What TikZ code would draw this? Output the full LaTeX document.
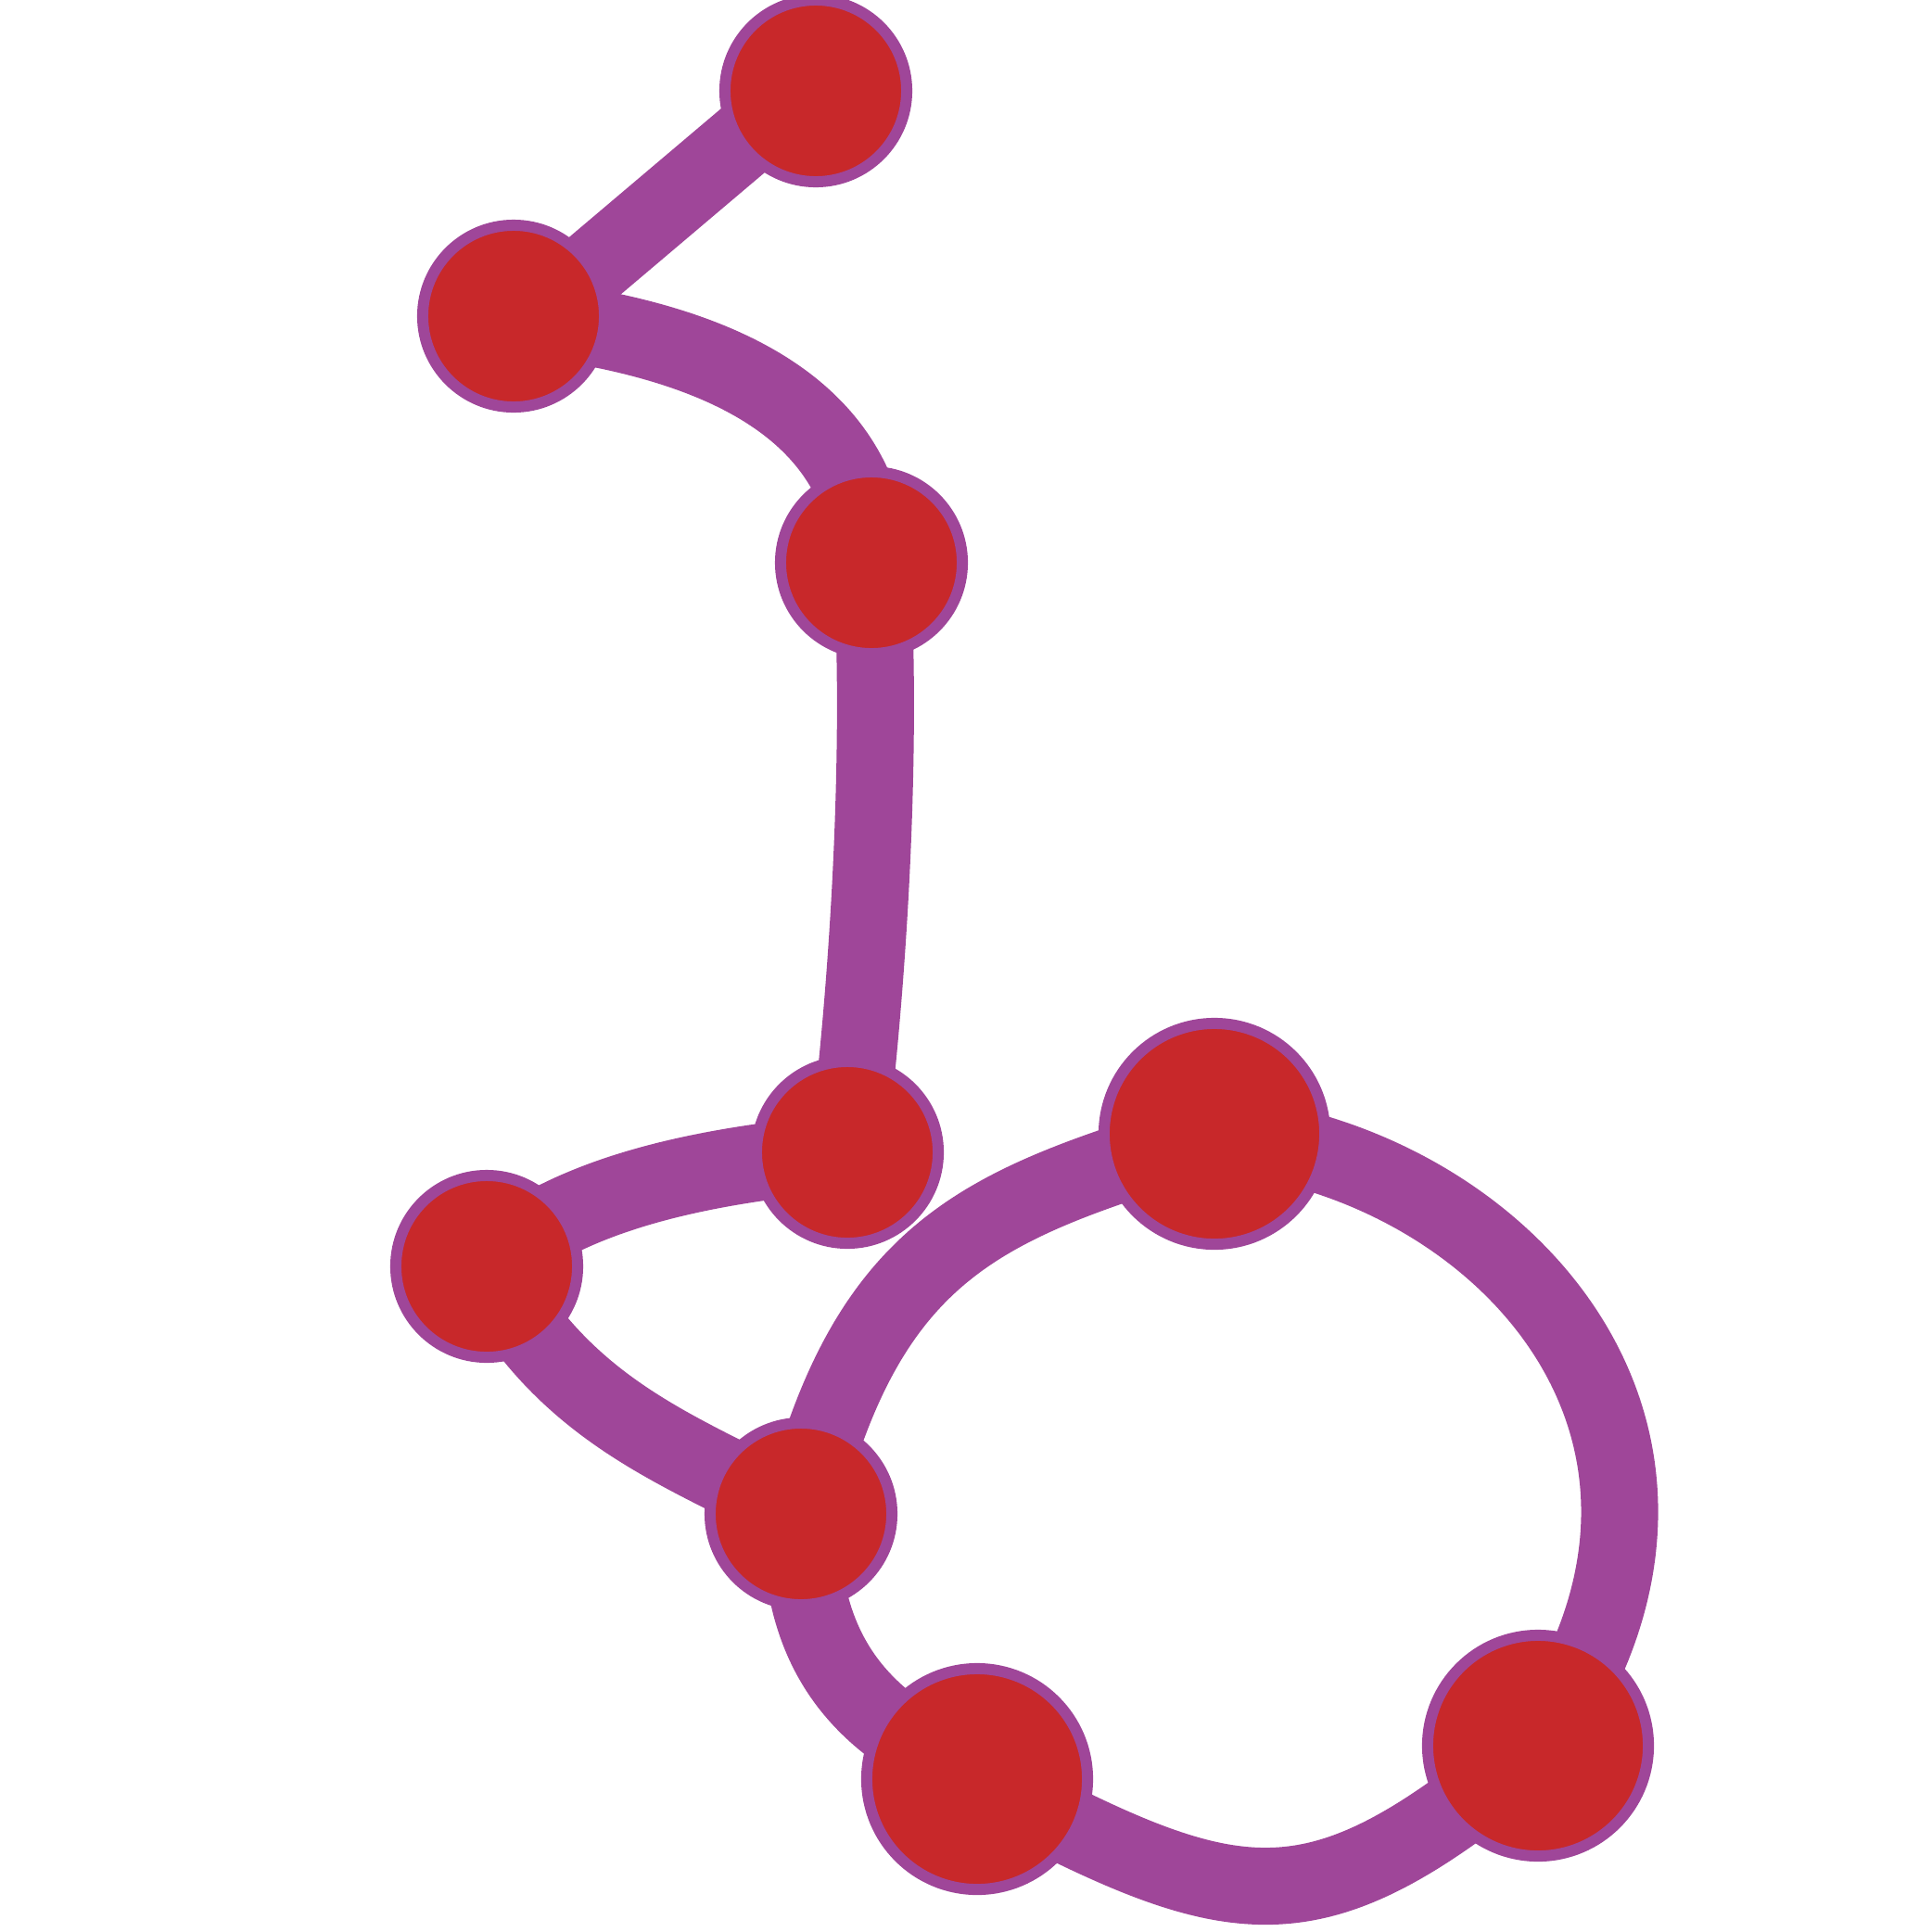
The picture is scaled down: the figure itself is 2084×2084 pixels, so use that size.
\documentclass[tikz,border=0pt]{standalone}
\usetikzlibrary{backgrounds,calc}
\definecolor{edgepurple}{HTML}{9F4699}
\definecolor{nodered}{HTML}{C8282A}
\begin{document}
\begin{tikzpicture}[x=0.01cm,y=-0.01cm,
  vtx/.style={circle,draw=edgepurple,fill=nodered,line width=0.12cm,inner sep=0pt,minimum size=1.96cm},
  bigvtx/.style={vtx,minimum size=2.38cm},
  link/.style={draw=edgepurple,line width=0.83cm}]
\useasboundingbox (0,0) rectangle (2084,2084);
\node[vtx] (n1) at (880,98) {};
\node[vtx] (n2) at (554,341) {};
\node[vtx] (n3) at (940,607) {};
\node[vtx] (n4) at (914,1243) {};
\node[vtx] (n5) at (525,1366) {};
\node[vtx] (n6) at (864,1633) {};
\node[bigvtx] (n7) at (1310,1223) {};
\node[bigvtx] (n8) at (1054,1919) {};
\node[bigvtx] (n9) at (1659,1883) {};
\begin{scope}[on background layer]
\draw[link] ($(n1.center)+(0,-13)$) -- ($(n2.center)+(0,20)$);
\draw[link] (n2.center) .. controls (775,365) and (930,440) .. (n3.center);
\draw[link] (n3.center) .. controls (952,800) and (938,1050) .. (n4.center);
\draw[link] (n4.center) .. controls (780,1255) and (620,1280) .. (n5.center);
\draw[link] (n5.center) .. controls (610,1524) and (732,1563) .. (n6.center);
\draw[link] (n6.center) .. controls (938,1340) and (1065,1298) .. (n7.center);
\draw[link] (n7.center) .. controls (1615,1248) and (1895,1545) .. (n9.center);
\draw[link] (n9.center) .. controls (1414,2089) and (1337,2069) .. (n8.center);
\draw[link] (n6.center) .. controls (860,1830) and (980,1875) .. (n8.center);
\end{scope}
\end{tikzpicture}
\end{document}
